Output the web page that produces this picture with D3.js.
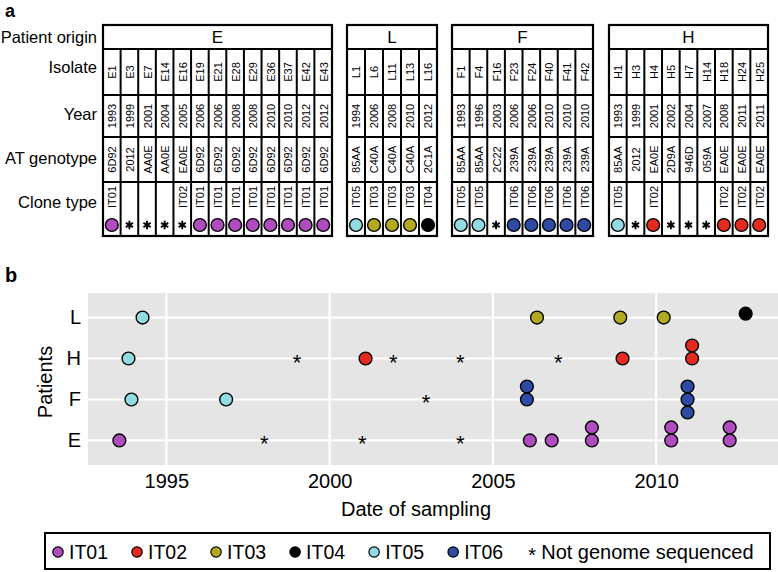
<!DOCTYPE html>
<html><head><meta charset="utf-8">
<script src="https://cdn.jsdelivr.net/npm/d3@7"></script>
<style>body{margin:0;background:#fff} svg{display:block} text{font-family:"Liberation Sans",Arial,Helvetica,sans-serif}</style>
</head><body><svg id="c" width="778" height="572"></svg>
<script>
// ---------- data ----------
const cloneTypes = ["IT01","IT02","IT03","IT04","IT05","IT06"];
const cloneColors = ["#b04cc0","#e52b1f","#b2ab22","#000000","#92dbe3","#2d4ba5"];
const notSeqLabel = "Not genome sequenced";

const tableGroups = ["E","L","F","H"];
const rowLabels = ["Patient origin","Isolate","Year","AT genotype","Clone type"];

const isolatesE = ["E1","E3","E7","E14","E16","E19","E21","E28","E29","E36","E37","E42","E43"];
const yearsE = ["1993","1999","2001","2004","2005","2006","2006","2008","2008","2010","2010","2012","2012"];
const genotypesE = ["6D92","2012","AA0E","AA0E","EA0E","6D92","6D92","6D92","6D92","6D92","6D92","6D92","6D92"];
const clonesE = ["IT01","","","","IT02","IT01","IT01","IT01","IT01","IT01","IT01","IT01","IT01"];
const markersE = ["IT01","*","*","*","*","IT01","IT01","IT01","IT01","IT01","IT01","IT01","IT01"];

const isolatesL = ["L1","L6","L11","L13","L16"];
const yearsL = ["1994","2006","2008","2010","2012"];
const genotypesL = ["85AA","C40A","C40A","C40A","2C1A"];
const clonesL = ["IT05","IT03","IT03","IT03","IT04"];
const markersL = ["IT05","IT03","IT03","IT03","IT04"];

const isolatesF = ["F1","F4","F16","F23","F24","F40","F41","F42"];
const yearsF = ["1993","1996","2003","2006","2006","2010","2010","2010"];
const genotypesF = ["85AA","85AA","2C22","239A","239A","239A","239A","239A"];
const clonesF = ["IT05","IT05","","IT06","IT06","IT06","IT06","IT06"];
const markersF = ["IT05","IT05","*","IT06","IT06","IT06","IT06","IT06"];

const isolatesH = ["H1","H3","H4","H5","H7","H14","H18","H24","H25"];
const yearsH = ["1993","1999","2001","2002","2004","2007","2008","2011","2011"];
const genotypesH = ["85AA","2012","EA0E","2D9A","946D","059A","EA0E","EA0E","EA0E"];
const clonesH = ["IT05","","IT02","","","","IT02","IT02","IT02"];
const markersH = ["IT05","*","IT02","*","*","*","IT02","IT02","IT02"];

// panel b : sampling dates per patient, clone type ("*" = not sequenced), stack level
const patients = ["E","F","H","L"];
const datesE = [1993.56,1998.0,2001.0,2004.0,2006.13,2006.8,2008.03,2008.03,2010.46,2010.46,2012.25,2012.25];
const typesE = ["IT01","*","*","*","IT01","IT01","IT01","IT01","IT01","IT01","IT01","IT01"];
const stackE = [0,0,0,0,0,0,0,1,0,1,0,1];
const datesF = [1993.93,1996.83,2002.95,2006.04,2006.04,2010.96,2010.96,2010.96];
const typesF = ["IT05","IT05","*","IT06","IT06","IT06","IT06","IT06"];
const stackF = [0,0,0,0,1,-1,0,1];
const datesH = [1993.84,1999.0,2001.1,2001.95,2004.0,2007.0,2008.97,2011.1,2011.1];
const typesH = ["IT05","*","IT02","*","*","*","IT02","IT02","IT02"];
const stackH = [0,0,0,0,0,0,0,0,1];
const datesL = [1994.27,2006.35,2008.9,2010.23,2012.74];
const typesL = ["IT05","IT03","IT03","IT03","IT04"];
const stackL = [0,0,0,0,0.3];
const xTicks = [1995,2000,2005,2010];

// ---------- build ----------
const svg = d3.select("#c");
const color = d3.scaleOrdinal().domain(cloneTypes).range(cloneColors);
const FONT = '"Liberation Sans",Arial,Helvetica,sans-serif';

const tableData = {
  E:{iso:isolatesE,yr:yearsE,gt:genotypesE,cl:clonesE,mk:markersE},
  L:{iso:isolatesL,yr:yearsL,gt:genotypesL,cl:clonesL,mk:markersL},
  F:{iso:isolatesF,yr:yearsF,gt:genotypesF,cl:clonesF,mk:markersF},
  H:{iso:isolatesH,yr:yearsH,gt:genotypesH,cl:clonesH,mk:markersH}
};

// panel labels
svg.append("text").attr("x",5).attr("y",16.5).attr("font-size",18).attr("font-weight","bold").text("a");
svg.append("text").attr("x",5).attr("y",282).attr("font-size",20).attr("font-weight","bold").text("b");

// ---------- panel a : table ----------
const rowEdges = [25,49,95,137,182,236];
const labelY = [37,67,114,158,202];
const groupExtents = {E:[103,332],L:[347,437],F:[452,593],H:[609,768]};

rowLabels.forEach((lab,i)=>{
  svg.append("text").attr("x",97).attr("y",labelY[i]).attr("dy","0.36em")
    .attr("text-anchor","end").attr("font-size",16.5).text(lab);
});

tableGroups.forEach(g=>{
  const d = tableData[g];
  const [x0,x1] = groupExtents[g];
  const xs = d3.scaleBand().domain(d3.range(d.iso.length)).range([x0,x1]);
  const G = svg.append("g");
  G.append("text").attr("x",(x0+x1)/2).attr("y",(rowEdges[0]+rowEdges[1])/2).attr("dy","0.36em")
    .attr("text-anchor","middle").attr("font-size",17).text(g);
  rowEdges.slice(1,5).forEach(yy=>{
    G.append("line").attr("x1",x0).attr("x2",x1).attr("y1",yy).attr("y2",yy)
      .attr("stroke","#000").attr("stroke-width",2);
  });
  d3.range(1,d.iso.length).forEach(i=>{
    G.append("line").attr("x1",xs(i)).attr("x2",xs(i)).attr("y1",rowEdges[1]).attr("y2",rowEdges[5])
      .attr("stroke","#000").attr("stroke-width",2);
  });
  G.append("rect").attr("x",x0).attr("y",rowEdges[0]).attr("width",x1-x0).attr("height",rowEdges[5]-rowEdges[0])
    .attr("fill","none").attr("stroke","#000").attr("stroke-width",2.2);
  const rows = [[d.iso,(rowEdges[1]+rowEdges[2])/2],[d.yr,(rowEdges[2]+rowEdges[3])/2],[d.gt,(rowEdges[3]+rowEdges[4])/2],[d.cl,197]];
  rows.forEach(([arr,cy])=>{
    arr.forEach((t,i)=>{
      if(!t) return;
      const cx = xs(i)+xs.bandwidth()/2;
      G.append("text").attr("transform",`translate(${cx+0.5},${cy}) rotate(-90)`)
        .attr("dy","0.36em").attr("text-anchor","middle").attr("font-size",11).text(t);
    });
  });
  d.mk.forEach((m,i)=>{
    const cx = xs(i)+xs.bandwidth()/2;
    if(m==="*"){
      G.append("path").attr("transform",`translate(${cx},225)`)
        .attr("d",d3.symbol(d3.symbolAsterisk,48)()).attr("stroke","#000").attr("stroke-width",1.9).attr("fill","none");
    } else {
      G.append("circle").attr("cx",cx).attr("cy",225).attr("r",6.4)
        .attr("fill",color(m)).attr("stroke","#000").attr("stroke-width",1.4);
    }
  });
});

// ---------- panel b : dot plot ----------
const plot = {left:88,right:778,top:293,bottom:465};
const x = d3.scaleLinear().domain([1992.6,2013.73]).range([plot.left,plot.right]);
const y = d3.scalePoint().domain(patients).range([plot.bottom,plot.top]).padding(0.6);
const stackStep = 13;

svg.append("rect").attr("x",plot.left).attr("y",plot.top).attr("width",plot.right-plot.left)
  .attr("height",plot.bottom-plot.top).attr("fill","#e5e5e5");
xTicks.forEach(t=>{
  svg.append("line").attr("x1",x(t)).attr("x2",x(t)).attr("y1",plot.top).attr("y2",plot.bottom)
    .attr("stroke","#fff").attr("stroke-width",2.2);
});
patients.forEach(p=>{
  svg.append("line").attr("x1",plot.left).attr("x2",plot.right).attr("y1",y(p)).attr("y2",y(p))
    .attr("stroke","#fff").attr("stroke-width",2.2);
});

const xAxis = svg.append("g").attr("transform",`translate(0,${plot.bottom})`)
  .call(d3.axisBottom(x).tickValues(xTicks).tickFormat(d3.format("d")).tickSize(0).tickPadding(9));
xAxis.select(".domain").remove();
xAxis.selectAll("text").attr("font-size",20).attr("font-family",FONT).attr("fill","#000");
const yAxis = svg.append("g").attr("transform",`translate(${plot.left},0)`)
  .call(d3.axisLeft(y).tickSize(0).tickPadding(7));
yAxis.select(".domain").remove();
yAxis.selectAll("text").attr("font-size",20).attr("font-family",FONT).attr("fill","#000");

svg.append("text").attr("transform","translate(52,382) rotate(-90)").attr("text-anchor","middle")
  .attr("font-size",20).text("Patients");
svg.append("text").attr("x",416).attr("y",516).attr("text-anchor","middle").attr("font-size",20).text("Date of sampling");

const samples = [];
[["E",datesE,typesE,stackE],["F",datesF,typesF,stackF],["H",datesH,typesH,stackH],["L",datesL,typesL,stackL]]
  .forEach(([p,ds,ts,ss])=>ds.forEach((d,i)=>samples.push({p,date:d,type:ts[i],stack:ss[i]})));

samples.sort((a,b)=>b.stack-a.stack);
samples.forEach(s=>{
  const cx = x(s.date), cy = y(s.p) - s.stack*stackStep;
  if(s.type==="*"){
    svg.append("text").attr("x",cx).attr("y",cy+11).attr("text-anchor","middle").attr("font-size",22).text("*");
  } else {
    svg.append("circle").attr("cx",cx).attr("cy",cy).attr("r",6.4)
      .attr("fill",color(s.type)).attr("stroke","#000").attr("stroke-width",1.4);
  }
});

// ---------- legend ----------
const leg = svg.append("g");
leg.append("rect").attr("x",45).attr("y",533).attr("width",725).attr("height",36)
  .attr("fill","#fff").attr("stroke","#000").attr("stroke-width",2);
let cur = 58;
const legY = 552;
cloneTypes.forEach(c=>{
  leg.append("circle").attr("cx",cur).attr("cy",legY).attr("r",5.2)
    .attr("fill",color(c)).attr("stroke","#000").attr("stroke-width",1.2);
  const t = leg.append("text").attr("x",cur+11).attr("y",legY).attr("dy","0.36em").attr("font-size",19.5).text(c);
  cur = cur + 11 + t.node().getComputedTextLength() + 29;
});
leg.append("text").attr("x",cur).attr("y",legY+10).attr("text-anchor","middle").attr("font-size",20).text("*");
leg.append("text").attr("x",cur+9).attr("y",legY).attr("dy","0.36em").attr("font-size",20).text(notSeqLabel);
</script></body></html>
